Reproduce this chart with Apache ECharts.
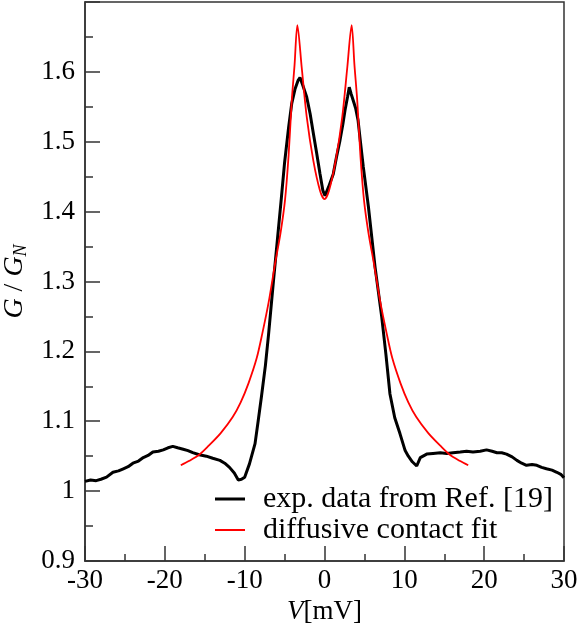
<!DOCTYPE html>
<html>
<head>
<meta charset="utf-8">
<script src="https://cdn.jsdelivr.net/npm/echarts@6/dist/echarts.min.js"></script>
<style>
  html, body { margin: 0; padding: 0; background: #fff; }
  #chart { width: 581px; height: 623px; }
</style>
</head>
<body>
<div id="chart"></div>
<script>
const expV = [-30, -29.3, -28.6, -28, -27.3, -26.5, -25.8, -25.2, -24.6, -24, -23.3, -22.7, -22.1, -21.5, -20.8, -20.2,
  -19.6, -19, -18.4, -17.7, -17.1, -16.5, -15.7, -14.8, -14, -13.1, -12.5, -11.9, -11.3, -10.8, -10.4, -10, -9.4, -8.7,
  -8.3, -7.9, -7.4, -7, -6.4, -5.9, -5.4, -5, -4.5, -4.1, -3.7, -3.3, -3.07, -2.7, -2.23, -1.8, -1.4, -1, -0.56, -0.2,
  0.06, 0.5, 1.1, 1.5, 1.94, 2.3, 2.57, 2.9, 3.1, 3.35, 3.6, 3.9, 4.2, 4.5, 4.86, 5.5, 6.33, 7.17, 7.7, 8.2, 8.8, 9.46,
  10.1, 10.5, 11, 11.55, 12, 12.8, 13.6, 14.5, 15.3, 16.1, 17, 17.8, 18.6, 19.5, 20.3, 21, 21.6, 22.2, 22.8, 23.5, 24.1,
  24.7, 25.3, 26, 26.6, 27.2, 27.8, 28.5, 29.1, 29.6, 30];
const expG = [1.014, 1.016, 1.015, 1.017, 1.020, 1.027, 1.029, 1.032, 1.035, 1.040, 1.043, 1.048, 1.051, 1.056, 1.057, 1.059,
  1.062, 1.064, 1.062, 1.060, 1.058, 1.055, 1.052, 1.050, 1.047, 1.044, 1.040, 1.034, 1.026, 1.016, 1.017, 1.020, 1.039, 1.068,
  1.101, 1.135, 1.180, 1.225, 1.300, 1.360, 1.420, 1.470, 1.520, 1.555, 1.575, 1.588, 1.592, 1.580, 1.564, 1.540, 1.512, 1.485, 1.454, 1.430,
  1.423, 1.435, 1.454, 1.478, 1.502, 1.525, 1.545, 1.565, 1.578, 1.568, 1.559, 1.548, 1.531, 1.500, 1.464, 1.407, 1.321, 1.249, 1.195, 1.139, 1.105, 1.082,
  1.058, 1.050, 1.042, 1.036, 1.048, 1.053, 1.054, 1.055, 1.054, 1.055, 1.056, 1.057, 1.056, 1.057, 1.059, 1.057, 1.055, 1.055, 1.053, 1.049, 1.044,
  1.040, 1.037, 1.038, 1.037, 1.034, 1.032, 1.030, 1.027, 1.024, 1.019];

// diffusive contact fit (symmetric)
const fitV = [-18, -17, -15.7, -14.5, -13, -11.5, -10.5, -9.5, -8.5, -7.8, -7, -6.2, -5.5, -4.95, -4.5, -4.1, -3.75, -3.4,
  -2.86, -2.23, -1.4, -0.56, 0, 0.56, 1.4, 2.23, 2.86, 3.4, 3.75, 4.1, 4.5, 4.95, 5.5, 6.2, 7, 7.8, 8.5, 9.5, 10.5, 11.5,
  13, 14.5, 15.7, 17, 18];
const fitG = [1.037, 1.043, 1.052, 1.065, 1.083, 1.106, 1.127, 1.155, 1.190, 1.225, 1.270, 1.325, 1.370, 1.416, 1.480, 1.559, 1.610, 1.667,
  1.607, 1.536, 1.473, 1.430, 1.418, 1.430, 1.473, 1.536, 1.607, 1.667, 1.610, 1.559, 1.480, 1.416, 1.370, 1.325, 1.270, 1.225, 1.190, 1.155, 1.127, 1.106,
  1.083, 1.065, 1.052, 1.043, 1.037];

const seriesNames = ['exp. data from Ref. [19]', 'diffusive contact fit'];
const FONT = '"Liberation Serif", "DejaVu Serif", serif';
// legend line icons: tiny corner dots keep the path box at 30x14 so the bar keeps its thickness
const iconBlack = 'path://M0,0h0.01v0.01h-0.01z M0,5.5h30v3h-30z M29.99,13.99h0.01v0.01h-0.01z';
const iconRed = 'path://M0,0h0.01v0.01h-0.01z M0,6h30v2h-30z M29.99,13.99h0.01v0.01h-0.01z';

const chart = echarts.init(document.getElementById('chart'));

const option = {
  backgroundColor: '#fff',
  animation: false,
  grid: {
    left: 85, right: 17, top: 2, bottom: 62,
    outerBoundsMode: 'none',
    show: true, borderColor: '#333', borderWidth: 1.5
  },
  legend: {
    orient: 'vertical',
    left: 210, top: 479,
    itemWidth: 30, itemHeight: 14, itemGap: 1,
    textStyle: { fontFamily: FONT, fontSize: 30, color: '#000', padding: [0, 0, 0, 13] },
    data: [
      { name: seriesNames[0], icon: iconBlack, itemStyle: { color: '#000' } },
      { name: seriesNames[1], icon: iconRed, itemStyle: { color: '#f00' } }
    ]
  },
  xAxis: {
    type: 'value',
    min: -30, max: 30, interval: 10,
    name: '{i|V}[mV]',
    nameLocation: 'middle', nameGap: 31,
    nameTextStyle: {
      fontFamily: FONT, fontSize: 27, color: '#000',
      rich: { i: { fontFamily: FONT, fontSize: 27, fontStyle: 'italic', color: '#000' } }
    },
    axisLine: { onZero: false, lineStyle: { color: '#333', width: 1.5 } },
    axisTick: { inside: true, length: 15, lineStyle: { color: '#333', width: 1.5 } },
    minorTick: { show: true, splitNumber: 2, length: 7, lineStyle: { color: '#333', width: 1.5 } },
    splitLine: { show: false },
    axisLabel: { fontFamily: FONT, fontSize: 27, color: '#000', margin: 6 }
  },
  yAxis: {
    type: 'value',
    min: 0.9, max: 1.7, interval: 0.1,
    name: '{i|G} / {i|G}{s|N}',
    nameLocation: 'middle', nameGap: 52, nameRotate: 90,
    nameTextStyle: {
      fontFamily: FONT, fontSize: 28, color: '#000',
      rich: {
        i: { fontFamily: FONT, fontSize: 28, fontStyle: 'italic', color: '#000' },
        s: { fontFamily: FONT, fontSize: 18, fontStyle: 'italic', color: '#000', verticalAlign: 'bottom', padding: [14, 0, 0, 0] }
      }
    },
    axisLine: { onZero: false, lineStyle: { color: '#333', width: 1.5 } },
    axisTick: { inside: true, length: 15, lineStyle: { color: '#333', width: 1.5 } },
    minorTick: { show: true, splitNumber: 2, length: 8, lineStyle: { color: '#333', width: 1.5 } },
    splitLine: { show: false },
    axisLabel: {
      fontFamily: FONT, fontSize: 27, color: '#000', margin: 10,
      formatter: v => (v > 1.65 ? '' : String(+v.toFixed(1)))
    }
  },
  series: [
    {
      name: seriesNames[0],
      type: 'line',
      data: expV.map((v, i) => [v, expG[i]]),
      symbol: 'none',
      color: '#000',
      lineStyle: { color: '#000', width: 3 },
      z: 2
    },
    {
      name: seriesNames[1],
      type: 'line',
      data: fitV.map((v, i) => [v, fitG[i]]),
      symbol: 'none',
      smooth: 0.3,
      color: '#f00',
      lineStyle: { color: '#f00', width: 1.8 },
      z: 3
    }
  ]
};

chart.setOption(option);
window.addEventListener('resize', () => chart.resize());
</script>
</body>
</html>
